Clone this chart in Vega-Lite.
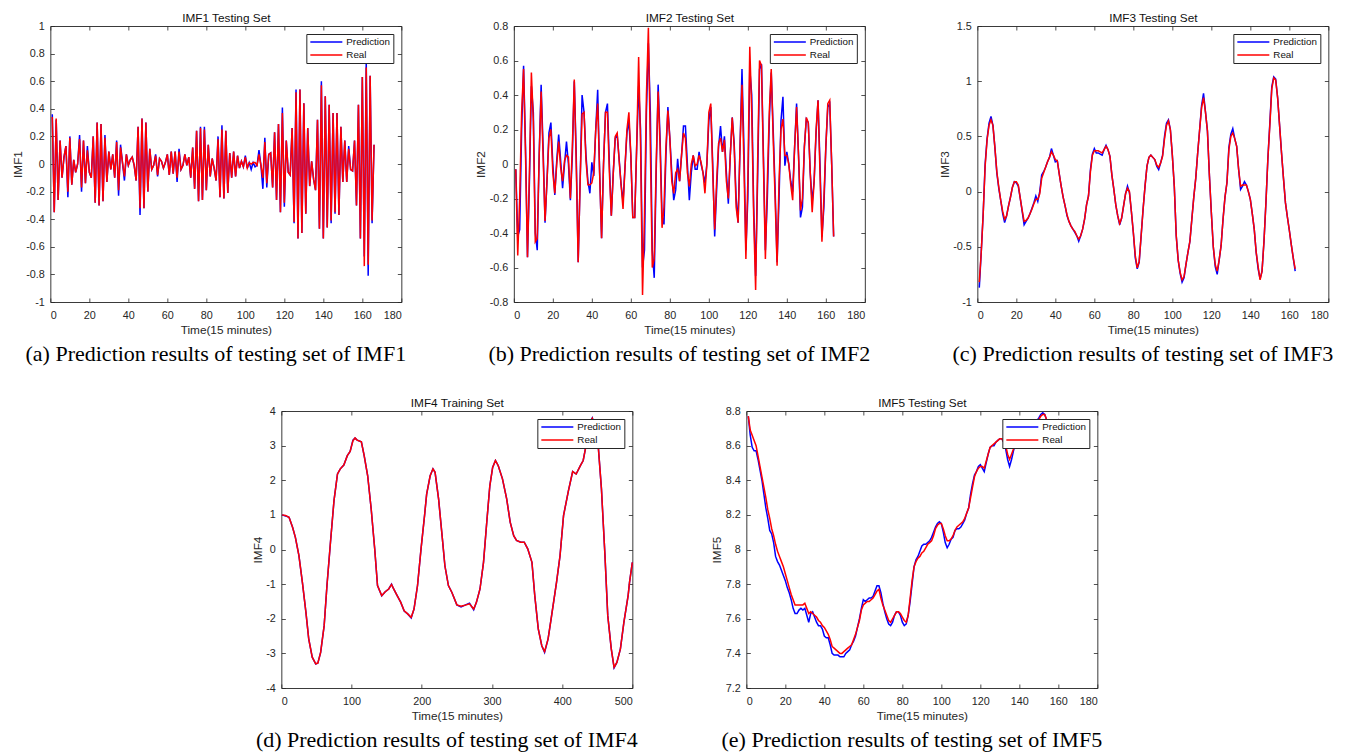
{
  "$schema": "https://vega.github.io/schema/vega-lite/v6.json",
  "background": "white",
  "padding": {"left": 11, "top": 12, "right": 0, "bottom": 0},
  "config": {
    "view": {"stroke": "#3a3a3a", "strokeWidth": 1},
    "axis": {
      "domain": false, "grid": false,
      "tickSize": -4, "tickColor": "#262626", "tickWidth": 0.8,
      "labelFont": "Liberation Sans", "labelFontSize": 10.8, "labelColor": "#262626",
      "titleFont": "Liberation Sans", "titleFontSize": 11.8, "titleFontWeight": "normal", "titleColor": "#262626"
    },
    "axisX": {"labelPadding": 11},
    "axisY": {"labelPadding": 10},
    "axisBottom": {"titlePadding": 5},
    "axisLeft": {"titlePadding": 2.5},
    "axisTop": {"titlePadding": 2, "titleColor": "#111111"},
    "legend": {
      "orient": "top-right", "offset": 8, "title": null,
      "symbolType": "stroke", "symbolSize": 1024, "symbolStrokeWidth": 1.8, "symbolOffset": 0,
      "clipHeight": 10, "rowPadding": 3, "padding": 3,
      "strokeColor": "#262626", "fillColor": "#ffffff", "cornerRadius": 0,
      "labelFont": "Liberation Sans", "labelFontSize": 9.8, "labelColor": "#111111", "labelOffset": 3
    },
    "title": {
      "orient": "bottom", "anchor": "middle", "font": "Liberation Serif", "fontSize": 22,
      "fontWeight": "normal", "color": "#000000", "offset": 7, "dx": -10
    },
    "line": {"strokeWidth": 1.5, "clip": true}
  },
  "datasets": {
    "imf1": [
      {"t":1,"pred":0.36,"real":0.34},{"t":2,"pred":-0.35,"real":-0.35},{"t":3,"pred":0.32,"real":0.33},{"t":4,"pred":-0.26,"real":-0.26},{"t":5,"pred":0.17,"real":0.17},
      {"t":6,"pred":-0.10,"real":-0.10},{"t":7,"pred":0.05,"real":0.05},{"t":8,"pred":0.13,"real":0.13},{"t":9,"pred":-0.24,"real":-0.20},{"t":10,"pred":0.20,"real":0.19},
      {"t":11,"pred":-0.15,"real":-0.15},{"t":12,"pred":0.03,"real":0.03},{"t":13,"pred":-0.06,"real":-0.06},{"t":14,"pred":0.00,"real":0.00},{"t":15,"pred":0.21,"real":0.18},
      {"t":16,"pred":-0.20,"real":-0.17},{"t":17,"pred":0.17,"real":0.17},{"t":18,"pred":-0.14,"real":-0.14},{"t":19,"pred":0.13,"real":0.10},{"t":20,"pred":-0.06,"real":-0.06},
      {"t":21,"pred":-0.10,"real":-0.10},{"t":22,"pred":0.20,"real":0.20},{"t":23,"pred":-0.28,"real":-0.28},{"t":24,"pred":0.30,"real":0.30},{"t":25,"pred":-0.30,"real":-0.30},
      {"t":26,"pred":0.29,"real":0.29},{"t":27,"pred":-0.27,"real":-0.27},{"t":28,"pred":0.21,"real":0.19},{"t":29,"pred":-0.13,"real":-0.13},{"t":30,"pred":0.09,"real":0.09},
      {"t":31,"pred":-0.04,"real":-0.04},{"t":32,"pred":0.07,"real":0.07},{"t":33,"pred":-0.10,"real":-0.10},{"t":34,"pred":0.17,"real":0.16},{"t":35,"pred":-0.23,"real":-0.19},
      {"t":36,"pred":0.14,"real":0.12},{"t":37,"pred":0.01,"real":0.01},{"t":38,"pred":-0.12,"real":-0.09},{"t":39,"pred":0.07,"real":0.07},{"t":40,"pred":-0.01,"real":-0.01},
      {"t":41,"pred":0.03,"real":0.03},{"t":42,"pred":0.05,"real":0.05},{"t":43,"pred":-0.01,"real":-0.01},{"t":44,"pred":-0.12,"real":-0.12},{"t":45,"pred":0.27,"real":0.27},
      {"t":46,"pred":-0.37,"real":-0.32},{"t":47,"pred":0.33,"real":0.33},{"t":48,"pred":-0.32,"real":-0.32},{"t":49,"pred":0.30,"real":0.30},{"t":50,"pred":-0.20,"real":-0.20},
      {"t":51,"pred":0.11,"real":0.11},{"t":52,"pred":-0.04,"real":-0.04},{"t":53,"pred":-0.01,"real":-0.01},{"t":54,"pred":0.07,"real":0.06},{"t":55,"pred":-0.09,"real":-0.08},
      {"t":56,"pred":0.04,"real":0.04},{"t":57,"pred":0.02,"real":0.02},{"t":58,"pred":-0.03,"real":-0.03},{"t":59,"pred":0.01,"real":0.01},{"t":60,"pred":0.07,"real":0.07},
      {"t":61,"pred":-0.08,"real":-0.08},{"t":62,"pred":0.09,"real":0.09},{"t":63,"pred":-0.07,"real":-0.07},{"t":64,"pred":0.09,"real":0.09},{"t":65,"pred":-0.13,"real":-0.10},
      {"t":66,"pred":0.11,"real":0.09},{"t":67,"pred":-0.04,"real":-0.04},{"t":68,"pred":-0.01,"real":-0.01},{"t":69,"pred":0.07,"real":0.07},{"t":70,"pred":-0.01,"real":-0.01},
      {"t":71,"pred":0.05,"real":0.05},{"t":72,"pred":-0.10,"real":-0.10},{"t":73,"pred":0.12,"real":0.12},{"t":74,"pred":-0.18,"real":-0.18},{"t":75,"pred":0.24,"real":0.24},
      {"t":76,"pred":-0.27,"real":-0.27},{"t":77,"pred":0.27,"real":0.26},{"t":78,"pred":-0.26,"real":-0.26},{"t":79,"pred":0.27,"real":0.25},{"t":80,"pred":-0.19,"real":-0.19},
      {"t":81,"pred":0.14,"real":0.14},{"t":82,"pred":-0.09,"real":-0.09},{"t":83,"pred":0.04,"real":0.04},{"t":84,"pred":-0.03,"real":-0.03},{"t":85,"pred":-0.12,"real":-0.12},
      {"t":86,"pred":0.20,"real":0.18},{"t":87,"pred":-0.24,"real":-0.24},{"t":88,"pred":0.28,"real":0.25},{"t":89,"pred":-0.25,"real":-0.25},{"t":90,"pred":0.24,"real":0.24},
      {"t":91,"pred":-0.21,"real":-0.21},{"t":92,"pred":0.08,"real":0.08},{"t":93,"pred":-0.10,"real":-0.10},{"t":94,"pred":0.09,"real":0.09},{"t":95,"pred":-0.09,"real":-0.09},
      {"t":96,"pred":0.06,"real":0.06},{"t":97,"pred":-0.03,"real":-0.03},{"t":98,"pred":0.02,"real":0.02},{"t":99,"pred":-0.02,"real":-0.02},{"t":100,"pred":0.06,"real":0.05},
      {"t":101,"pred":-0.03,"real":-0.03},{"t":102,"pred":0.01,"real":0.01},{"t":103,"pred":-0.04,"real":0.00},{"t":104,"pred":0.01,"real":0.01},{"t":105,"pred":-0.02,"real":0.01},
      {"t":106,"pred":-0.01,"real":-0.01},{"t":107,"pred":0.10,"real":0.07},{"t":108,"pred":-0.01,"real":-0.01},{"t":109,"pred":-0.18,"real":-0.10},{"t":110,"pred":0.19,"real":0.16},
      {"t":111,"pred":-0.17,"real":-0.14},{"t":112,"pred":0.07,"real":0.07},{"t":113,"pred":0.08,"real":0.08},{"t":114,"pred":-0.17,"real":-0.17},{"t":115,"pred":0.23,"real":0.23},
      {"t":116,"pred":-0.26,"real":-0.26},{"t":117,"pred":0.29,"real":0.29},{"t":118,"pred":-0.35,"real":-0.35},{"t":119,"pred":0.41,"real":0.37},{"t":120,"pred":-0.31,"real":-0.28},
      {"t":121,"pred":0.17,"real":0.17},{"t":122,"pred":-0.06,"real":-0.06},{"t":123,"pred":-0.08,"real":-0.08},{"t":124,"pred":0.26,"real":0.26},{"t":125,"pred":-0.43,"real":-0.42},
      {"t":126,"pred":0.54,"real":0.52},{"t":127,"pred":-0.54,"real":-0.54},{"t":128,"pred":0.54,"real":0.54},{"t":129,"pred":-0.50,"real":-0.50},{"t":130,"pred":0.44,"real":0.44},
      {"t":131,"pred":-0.36,"real":-0.36},{"t":132,"pred":0.26,"real":0.26},{"t":133,"pred":-0.16,"real":-0.16},{"t":134,"pred":0.02,"real":0.02},{"t":135,"pred":-0.11,"real":-0.11},
      {"t":136,"pred":-0.19,"real":-0.19},{"t":137,"pred":0.32,"real":0.32},{"t":138,"pred":-0.47,"real":-0.47},{"t":139,"pred":0.60,"real":0.57},{"t":140,"pred":-0.54,"real":-0.54},
      {"t":141,"pred":0.49,"real":0.49},{"t":142,"pred":-0.46,"real":-0.46},{"t":143,"pred":0.43,"real":0.43},{"t":144,"pred":-0.43,"real":-0.41},{"t":145,"pred":0.37,"real":0.37},
      {"t":146,"pred":-0.36,"real":-0.35},{"t":147,"pred":0.37,"real":0.37},{"t":148,"pred":-0.37,"real":-0.37},{"t":149,"pred":0.27,"real":0.27},{"t":150,"pred":-0.13,"real":-0.13},
      {"t":151,"pred":0.17,"real":0.17},{"t":152,"pred":-0.13,"real":-0.13},{"t":153,"pred":0.13,"real":0.11},{"t":154,"pred":-0.04,"real":-0.04},{"t":155,"pred":-0.05,"real":-0.05},
      {"t":156,"pred":0.17,"real":0.17},{"t":157,"pred":-0.30,"real":-0.30},{"t":158,"pred":0.43,"real":0.43},{"t":159,"pred":-0.54,"real":-0.54},{"t":160,"pred":0.63,"real":0.63},
      {"t":161,"pred":-0.67,"real":-0.74},{"t":162,"pred":0.75,"real":0.70},{"t":163,"pred":-0.81,"real":-0.73},{"t":164,"pred":0.64,"real":0.64},{"t":165,"pred":-0.43,"real":-0.41},
      {"t":166,"pred":0.14,"real":0.14}
    ],
    "imf2": [
      {"t":1,"pred":-0.03,"real":-0.03},{"t":2,"pred":-0.42,"real":-0.53},{"t":3,"pred":-0.38,"real":-0.20},{"t":4,"pred":0.20,"real":0.30},{"t":5,"pred":0.57,"real":0.55},
      {"t":6,"pred":0.10,"real":0.05},{"t":7,"pred":-0.54,"real":-0.54},{"t":8,"pred":-0.10,"real":-0.05},{"t":9,"pred":0.45,"real":0.53},{"t":10,"pred":0.30,"real":0.25},
      {"t":11,"pred":-0.40,"real":-0.45},{"t":12,"pred":-0.50,"real":-0.43},{"t":13,"pred":0.05,"real":0.05},{"t":14,"pred":0.46,"real":0.42},{"t":15,"pred":0.10,"real":0.05},
      {"t":16,"pred":-0.34,"real":-0.33},{"t":17,"pred":-0.10,"real":-0.10},{"t":18,"pred":0.18,"real":0.15},{"t":19,"pred":0.24,"real":0.20},{"t":20,"pred":0.00,"real":-0.05},
      {"t":21,"pred":-0.18,"real":-0.17},{"t":22,"pred":0.02,"real":0.00},{"t":23,"pred":0.17,"real":0.13},{"t":24,"pred":0.02,"real":-0.02},{"t":25,"pred":-0.14,"real":-0.10},
      {"t":26,"pred":0.00,"real":0.02},{"t":27,"pred":0.13,"real":0.05},{"t":28,"pred":0.00,"real":0.04},{"t":29,"pred":-0.21,"real":-0.20},{"t":30,"pred":0.05,"real":0.10},
      {"t":31,"pred":0.48,"real":0.49},{"t":32,"pred":0.05,"real":0.00},{"t":33,"pred":-0.57,"real":-0.57},{"t":34,"pred":-0.10,"real":-0.10},{"t":35,"pred":0.40,"real":0.29},
      {"t":36,"pred":0.30,"real":0.30},{"t":37,"pred":0.05,"real":0.02},{"t":38,"pred":-0.10,"real":-0.12},{"t":39,"pred":-0.17,"real":-0.12},{"t":40,"pred":0.01,"real":-0.11},
      {"t":41,"pred":-0.07,"real":-0.05},{"t":42,"pred":0.20,"real":0.20},{"t":43,"pred":0.43,"real":0.35},{"t":44,"pred":-0.05,"real":-0.05},{"t":45,"pred":-0.43,"real":-0.43},
      {"t":46,"pred":0.00,"real":0.00},{"t":47,"pred":0.30,"real":0.30},{"t":48,"pred":0.35,"real":0.30},{"t":49,"pred":0.00,"real":-0.05},{"t":50,"pred":-0.30,"real":-0.30},
      {"t":51,"pred":-0.05,"real":-0.05},{"t":52,"pred":0.15,"real":0.16},{"t":53,"pred":0.17,"real":0.18},{"t":54,"pred":0.03,"real":0.02},{"t":55,"pred":-0.12,"real":-0.12},
      {"t":56,"pred":-0.22,"real":-0.26},{"t":57,"pred":-0.02,"real":-0.02},{"t":58,"pred":0.18,"real":0.20},{"t":59,"pred":0.25,"real":0.30},{"t":60,"pred":0.05,"real":0.05},
      {"t":61,"pred":-0.31,"real":-0.31},{"t":62,"pred":-0.31,"real":-0.31},{"t":63,"pred":0.10,"real":0.10},{"t":64,"pred":0.45,"real":0.62},{"t":65,"pred":0.20,"real":0.10},
      {"t":66,"pred":-0.60,"real":-0.76},{"t":67,"pred":-0.50,"real":-0.30},{"t":68,"pred":0.30,"real":0.40},{"t":69,"pred":0.70,"real":0.79},{"t":70,"pred":0.30,"real":0.10},
      {"t":71,"pred":-0.50,"real":-0.60},{"t":72,"pred":-0.66,"real":-0.55},{"t":73,"pred":-0.05,"real":0.00},{"t":74,"pred":0.46,"real":0.42},{"t":75,"pred":0.15,"real":0.10},
      {"t":76,"pred":-0.30,"real":-0.37},{"t":77,"pred":-0.35,"real":-0.25},{"t":78,"pred":0.05,"real":0.10},{"t":79,"pred":0.33,"real":0.31},{"t":80,"pred":0.15,"real":0.15},
      {"t":81,"pred":-0.05,"real":-0.10},{"t":82,"pred":-0.21,"real":-0.17},{"t":83,"pred":-0.15,"real":-0.05},{"t":84,"pred":0.03,"real":-0.03},{"t":85,"pred":-0.10,"real":-0.10},
      {"t":86,"pred":0.05,"real":0.05},{"t":87,"pred":0.22,"real":0.18},{"t":88,"pred":0.22,"real":0.15},{"t":89,"pred":0.00,"real":-0.05},{"t":90,"pred":-0.21,"real":-0.13},
      {"t":91,"pred":-0.05,"real":0.00},{"t":92,"pred":0.05,"real":0.05},{"t":93,"pred":-0.03,"real":-0.01},{"t":94,"pred":-0.03,"real":0.00},{"t":95,"pred":0.07,"real":0.05},
      {"t":96,"pred":0.00,"real":0.01},{"t":97,"pred":-0.05,"real":-0.05},{"t":98,"pred":-0.11,"real":-0.17},{"t":99,"pred":0.00,"real":0.00},{"t":100,"pred":0.25,"real":0.30},
      {"t":101,"pred":0.33,"real":0.35},{"t":102,"pred":0.00,"real":-0.05},{"t":103,"pred":-0.42,"real":-0.38},{"t":104,"pred":-0.15,"real":-0.10},{"t":105,"pred":0.10,"real":0.12},
      {"t":106,"pred":0.22,"real":0.15},{"t":107,"pred":0.07,"real":0.07},{"t":108,"pred":0.16,"real":0.14},{"t":109,"pred":-0.05,"real":-0.10},{"t":110,"pred":-0.23,"real":-0.20},
      {"t":111,"pred":0.05,"real":0.05},{"t":112,"pred":0.27,"real":0.27},{"t":113,"pred":0.12,"real":0.10},{"t":114,"pred":-0.20,"real":-0.25},{"t":115,"pred":-0.34,"real":-0.34},
      {"t":116,"pred":0.10,"real":0.10},{"t":117,"pred":0.55,"real":0.46},{"t":118,"pred":0.10,"real":0.00},{"t":119,"pred":-0.50,"real":-0.55},{"t":120,"pred":-0.20,"real":-0.10},
      {"t":121,"pred":0.55,"real":0.68},{"t":122,"pred":0.40,"real":0.30},{"t":123,"pred":-0.25,"real":-0.30},{"t":124,"pred":-0.65,"real":-0.73},{"t":125,"pred":-0.10,"real":0.00},
      {"t":126,"pred":0.55,"real":0.60},{"t":127,"pred":0.58,"real":0.57},{"t":128,"pred":0.05,"real":0.00},{"t":129,"pred":-0.50,"real":-0.55},{"t":130,"pred":-0.20,"real":-0.10},
      {"t":131,"pred":0.25,"real":0.30},{"t":132,"pred":0.53,"real":0.55},{"t":133,"pred":0.20,"real":0.15},{"t":134,"pred":-0.15,"real":-0.20},{"t":135,"pred":-0.57,"real":-0.59},
      {"t":136,"pred":-0.20,"real":-0.10},{"t":137,"pred":0.25,"real":0.20},{"t":138,"pred":0.39,"real":0.26},{"t":139,"pred":-0.01,"real":0.05},{"t":140,"pred":0.07,"real":0.05},
      {"t":141,"pred":0.00,"real":0.00},{"t":142,"pred":-0.10,"real":-0.12},{"t":143,"pred":-0.16,"real":-0.21},{"t":144,"pred":0.10,"real":0.10},{"t":145,"pred":0.35,"real":0.33},
      {"t":146,"pred":0.05,"real":0.05},{"t":147,"pred":-0.31,"real":-0.27},{"t":148,"pred":-0.25,"real":-0.20},{"t":149,"pred":0.10,"real":0.10},{"t":150,"pred":0.26,"real":0.27},
      {"t":151,"pred":0.24,"real":0.24},{"t":152,"pred":-0.05,"real":-0.05},{"t":153,"pred":-0.22,"real":-0.28},{"t":154,"pred":-0.10,"real":-0.10},{"t":155,"pred":0.18,"real":0.20},
      {"t":156,"pred":0.37,"real":0.37},{"t":157,"pred":0.00,"real":-0.05},{"t":158,"pred":-0.42,"real":-0.45},{"t":159,"pred":-0.25,"real":-0.20},{"t":160,"pred":0.10,"real":0.10},
      {"t":161,"pred":0.33,"real":0.35},{"t":162,"pred":0.35,"real":0.37},{"t":163,"pred":0.00,"real":0.00},{"t":164,"pred":-0.42,"real":-0.42}
    ],
    "imf3": [
      {"t":1,"pred":-0.87,"real":-0.82},{"t":2,"pred":-0.55,"real":-0.55},{"t":3,"pred":-0.20,"real":-0.20},{"t":4,"pred":0.25,"real":0.23},{"t":5,"pred":0.48,"real":0.47},
      {"t":6,"pred":0.62,"real":0.60},{"t":7,"pred":0.68,"real":0.65},{"t":8,"pred":0.60,"real":0.60},{"t":9,"pred":0.40,"real":0.40},{"t":10,"pred":0.17,"real":0.18},
      {"t":11,"pred":0.03,"real":0.04},{"t":12,"pred":-0.08,"real":-0.08},{"t":13,"pred":-0.20,"real":-0.18},{"t":14,"pred":-0.28,"real":-0.25},{"t":15,"pred":-0.22,"real":-0.22},
      {"t":16,"pred":-0.13,"real":-0.13},{"t":17,"pred":-0.05,"real":-0.05},{"t":18,"pred":0.04,"real":0.04},{"t":19,"pred":0.09,"real":0.09},{"t":20,"pred":0.08,"real":0.09},
      {"t":21,"pred":0.05,"real":0.06},{"t":22,"pred":-0.06,"real":-0.06},{"t":23,"pred":-0.18,"real":-0.17},{"t":24,"pred":-0.30,"real":-0.27},{"t":25,"pred":-0.27,"real":-0.26},
      {"t":26,"pred":-0.24,"real":-0.24},{"t":27,"pred":-0.20,"real":-0.20},{"t":28,"pred":-0.15,"real":-0.16},{"t":29,"pred":-0.10,"real":-0.11},{"t":30,"pred":-0.04,"real":-0.07},
      {"t":31,"pred":-0.09,"real":-0.07},{"t":32,"pred":0.00,"real":-0.02},{"t":33,"pred":0.15,"real":0.12},{"t":34,"pred":0.18,"real":0.17},{"t":35,"pred":0.22,"real":0.22},
      {"t":36,"pred":0.27,"real":0.27},{"t":37,"pred":0.31,"real":0.31},{"t":38,"pred":0.39,"real":0.36},{"t":39,"pred":0.33,"real":0.33},{"t":40,"pred":0.27,"real":0.29},
      {"t":41,"pred":0.28,"real":0.28},{"t":42,"pred":0.16,"real":0.16},{"t":43,"pred":0.05,"real":0.05},{"t":44,"pred":-0.05,"real":-0.05},{"t":45,"pred":-0.13,"real":-0.13},
      {"t":46,"pred":-0.22,"real":-0.21},{"t":47,"pred":-0.27,"real":-0.27},{"t":48,"pred":-0.31,"real":-0.31},{"t":49,"pred":-0.34,"real":-0.34},{"t":50,"pred":-0.37,"real":-0.36},
      {"t":51,"pred":-0.40,"real":-0.40},{"t":52,"pred":-0.45,"real":-0.43},{"t":53,"pred":-0.40,"real":-0.40},{"t":54,"pred":-0.34,"real":-0.34},{"t":55,"pred":-0.25,"real":-0.25},
      {"t":56,"pred":-0.12,"real":-0.12},{"t":57,"pred":-0.04,"real":-0.04},{"t":58,"pred":0.20,"real":0.18},{"t":59,"pred":0.34,"real":0.33},{"t":60,"pred":0.39,"real":0.37},
      {"t":61,"pred":0.35,"real":0.37},{"t":62,"pred":0.35,"real":0.37},{"t":63,"pred":0.34,"real":0.36},{"t":64,"pred":0.33,"real":0.35},{"t":65,"pred":0.38,"real":0.38},
      {"t":66,"pred":0.42,"real":0.41},{"t":67,"pred":0.38,"real":0.38},{"t":68,"pred":0.32,"real":0.32},{"t":69,"pred":0.15,"real":0.15},{"t":70,"pred":0.02,"real":0.02},
      {"t":71,"pred":-0.12,"real":-0.12},{"t":72,"pred":-0.22,"real":-0.22},{"t":73,"pred":-0.30,"real":-0.29},{"t":74,"pred":-0.24,"real":-0.24},{"t":75,"pred":-0.13,"real":-0.13},
      {"t":76,"pred":-0.02,"real":-0.02},{"t":77,"pred":0.05,"real":0.03},{"t":78,"pred":-0.01,"real":0.00},{"t":79,"pred":-0.18,"real":-0.18},{"t":80,"pred":-0.37,"real":-0.37},
      {"t":81,"pred":-0.60,"real":-0.58},{"t":82,"pred":-0.70,"real":-0.69},{"t":83,"pred":-0.64,"real":-0.63},{"t":84,"pred":-0.40,"real":-0.40},{"t":85,"pred":-0.16,"real":-0.16},
      {"t":86,"pred":0.05,"real":0.05},{"t":87,"pred":0.23,"real":0.23},{"t":88,"pred":0.31,"real":0.31},{"t":89,"pred":0.33,"real":0.33},{"t":90,"pred":0.31,"real":0.31},
      {"t":91,"pred":0.29,"real":0.29},{"t":92,"pred":0.23,"real":0.24},{"t":93,"pred":0.20,"real":0.22},{"t":94,"pred":0.26,"real":0.26},{"t":95,"pred":0.33,"real":0.32},
      {"t":96,"pred":0.50,"real":0.48},{"t":97,"pred":0.62,"real":0.60},{"t":98,"pred":0.65,"real":0.64},{"t":99,"pred":0.56,"real":0.56},{"t":100,"pred":0.33,"real":0.33},
      {"t":101,"pred":0.05,"real":0.05},{"t":102,"pred":-0.40,"real":-0.40},{"t":103,"pred":-0.62,"real":-0.62},{"t":104,"pred":-0.74,"real":-0.73},{"t":105,"pred":-0.82,"real":-0.80},
      {"t":106,"pred":-0.78,"real":-0.77},{"t":107,"pred":-0.66,"real":-0.66},{"t":108,"pred":-0.55,"real":-0.55},{"t":109,"pred":-0.45,"real":-0.45},{"t":110,"pred":-0.25,"real":-0.25},
      {"t":111,"pred":-0.05,"real":-0.05},{"t":112,"pred":0.12,"real":0.12},{"t":113,"pred":0.35,"real":0.35},{"t":114,"pred":0.56,"real":0.56},{"t":115,"pred":0.78,"real":0.76},
      {"t":116,"pred":0.89,"real":0.85},{"t":117,"pred":0.72,"real":0.72},{"t":118,"pred":0.55,"real":0.55},{"t":119,"pred":0.15,"real":0.15},{"t":120,"pred":-0.19,"real":-0.19},
      {"t":121,"pred":-0.50,"real":-0.50},{"t":122,"pred":-0.68,"real":-0.66},{"t":123,"pred":-0.75,"real":-0.72},{"t":124,"pred":-0.62,"real":-0.62},{"t":125,"pred":-0.49,"real":-0.49},
      {"t":126,"pred":-0.25,"real":-0.25},{"t":127,"pred":-0.05,"real":-0.05},{"t":128,"pred":0.08,"real":0.08},{"t":129,"pred":0.40,"real":0.38},{"t":130,"pred":0.52,"real":0.50},
      {"t":131,"pred":0.57,"real":0.53},{"t":132,"pred":0.48,"real":0.48},{"t":133,"pred":0.41,"real":0.41},{"t":134,"pred":0.20,"real":0.20},{"t":135,"pred":0.02,"real":0.05},
      {"t":136,"pred":0.05,"real":0.06},{"t":137,"pred":0.09,"real":0.06},{"t":138,"pred":0.06,"real":0.06},{"t":139,"pred":0.00,"real":0.00},{"t":140,"pred":-0.07,"real":-0.07},
      {"t":141,"pred":-0.20,"real":-0.20},{"t":142,"pred":-0.34,"real":-0.34},{"t":143,"pred":-0.55,"real":-0.55},{"t":144,"pred":-0.70,"real":-0.68},{"t":145,"pred":-0.79,"real":-0.80},
      {"t":146,"pred":-0.72,"real":-0.72},{"t":147,"pred":-0.45,"real":-0.45},{"t":148,"pred":-0.10,"real":-0.10},{"t":149,"pred":0.30,"real":0.30},{"t":150,"pred":0.62,"real":0.60},
      {"t":151,"pred":0.95,"real":0.93},{"t":152,"pred":1.04,"real":1.03},{"t":153,"pred":1.02,"real":1.01},{"t":154,"pred":0.85,"real":0.85},{"t":155,"pred":0.60,"real":0.60},
      {"t":156,"pred":0.35,"real":0.35},{"t":157,"pred":0.12,"real":0.12},{"t":158,"pred":-0.10,"real":-0.10},{"t":159,"pred":-0.23,"real":-0.23},{"t":160,"pred":-0.35,"real":-0.35},
      {"t":161,"pred":-0.48,"real":-0.48},{"t":162,"pred":-0.60,"real":-0.60},{"t":163,"pred":-0.72,"real":-0.70}
    ],
    "imf4": [
      {"t":1,"pred":1.00,"real":1.00},{"t":6,"pred":0.97,"real":0.98},{"t":11,"pred":0.93,"real":0.93},{"t":16,"pred":0.64,"real":0.64},{"t":20,"pred":0.35,"real":0.35},
      {"t":25,"pred":-0.17,"real":-0.17},{"t":30,"pred":-0.95,"real":-0.95},{"t":35,"pred":-1.81,"real":-1.81},{"t":39,"pred":-2.58,"real":-2.58},{"t":44,"pred":-3.11,"real":-3.11},
      {"t":49,"pred":-3.31,"real":-3.30},{"t":52,"pred":-3.28,"real":-3.28},{"t":56,"pred":-2.97,"real":-2.97},{"t":61,"pred":-2.20,"real":-2.20},{"t":65,"pred":-1.04,"real":-1.04},
      {"t":70,"pred":0.21,"real":0.21},{"t":75,"pred":1.41,"real":1.41},{"t":80,"pred":2.18,"real":2.18},{"t":84,"pred":2.33,"real":2.33},{"t":89,"pred":2.44,"real":2.44},
      {"t":94,"pred":2.71,"real":2.71},{"t":98,"pred":2.83,"real":2.83},{"t":102,"pred":3.16,"real":3.14},{"t":105,"pred":3.22,"real":3.22},{"t":108,"pred":3.16,"real":3.16},
      {"t":114,"pred":3.11,"real":3.11},{"t":118,"pred":2.71,"real":2.71},{"t":123,"pred":2.13,"real":2.13},{"t":128,"pred":1.17,"real":1.17},{"t":133,"pred":0.02,"real":0.02},
      {"t":137,"pred":-1.04,"real":-1.04},{"t":143,"pred":-1.34,"real":-1.33},{"t":148,"pred":-1.22,"real":-1.22},{"t":153,"pred":-1.14,"real":-1.14},{"t":157,"pred":-1.00,"real":-1.01},
      {"t":160,"pred":-1.14,"real":-1.14},{"t":165,"pred":-1.33,"real":-1.33},{"t":170,"pred":-1.52,"real":-1.52},{"t":175,"pred":-1.78,"real":-1.77},{"t":180,"pred":-1.86,"real":-1.86},
      {"t":185,"pred":-1.98,"real":-1.96},{"t":189,"pred":-1.72,"real":-1.72},{"t":194,"pred":-1.04,"real":-1.04},{"t":199,"pred":0.02,"real":0.02},{"t":204,"pred":0.98,"real":0.98},
      {"t":207,"pred":1.60,"real":1.60},{"t":212,"pred":2.13,"real":2.13},{"t":216,"pred":2.33,"real":2.33},{"t":219,"pred":2.23,"real":2.23},{"t":224,"pred":1.46,"real":1.46},
      {"t":229,"pred":0.40,"real":0.40},{"t":233,"pred":-0.47,"real":-0.47},{"t":238,"pred":-1.04,"real":-1.04},{"t":243,"pred":-1.24,"real":-1.24},{"t":250,"pred":-1.60,"real":-1.60},
      {"t":256,"pred":-1.66,"real":-1.64},{"t":260,"pred":-1.62,"real":-1.62},{"t":268,"pred":-1.55,"real":-1.57},{"t":274,"pred":-1.74,"real":-1.72},{"t":278,"pred":-1.52,"real":-1.52},
      {"t":283,"pred":-1.14,"real":-1.14},{"t":288,"pred":-0.37,"real":-0.37},{"t":293,"pred":0.88,"real":0.88},{"t":297,"pred":1.84,"real":1.84},{"t":301,"pred":2.37,"real":2.37},
      {"t":305,"pred":2.57,"real":2.57},{"t":309,"pred":2.42,"real":2.42},{"t":315,"pred":2.04,"real":2.04},{"t":321,"pred":1.46,"real":1.46},{"t":326,"pred":0.79,"real":0.79},
      {"t":331,"pred":0.40,"real":0.40},{"t":335,"pred":0.26,"real":0.26},{"t":341,"pred":0.21,"real":0.21},{"t":346,"pred":0.21,"real":0.21},{"t":351,"pred":0.02,"real":0.02},
      {"t":357,"pred":-0.37,"real":-0.37},{"t":361,"pred":-1.33,"real":-1.33},{"t":366,"pred":-2.29,"real":-2.29},{"t":371,"pred":-2.78,"real":-2.78},{"t":375,"pred":-2.97,"real":-2.95},
      {"t":380,"pred":-2.58,"real":-2.58},{"t":385,"pred":-1.91,"real":-1.91},{"t":392,"pred":-0.95,"real":-0.95},{"t":397,"pred":-0.18,"real":-0.18},{"t":402,"pred":0.98,"real":0.98},
      {"t":409,"pred":1.70,"real":1.70},{"t":415,"pred":2.25,"real":2.25},{"t":420,"pred":2.18,"real":2.18},{"t":426,"pred":2.42,"real":2.42},{"t":430,"pred":2.57,"real":2.57},
      {"t":435,"pred":3.10,"real":3.10},{"t":439,"pred":3.67,"real":3.67},{"t":443,"pred":3.80,"real":3.79},{"t":446,"pred":3.58,"real":3.58},{"t":451,"pred":3.10,"real":3.10},
      {"t":456,"pred":1.75,"real":1.75},{"t":461,"pred":-0.17,"real":-0.17},{"t":465,"pred":-1.91,"real":-1.91},{"t":470,"pred":-2.87,"real":-2.87},{"t":474,"pred":-3.42,"real":-3.40},
      {"t":478,"pred":-3.26,"real":-3.26},{"t":483,"pred":-2.87,"real":-2.87},{"t":488,"pred":-2.10,"real":-2.10},{"t":494,"pred":-1.33,"real":-1.33},{"t":496,"pred":-0.95,"real":-0.95},
      {"t":500,"pred":-0.37,"real":-0.37}
    ],
    "imf5": [
      {"t":1,"pred":8.77,"real":8.77},{"t":2,"pred":8.66,"real":8.69},{"t":3,"pred":8.59,"real":8.66},{"t":4,"pred":8.57,"real":8.63},{"t":5,"pred":8.57,"real":8.60},
      {"t":6,"pred":8.52,"real":8.54},{"t":7,"pred":8.46,"real":8.48},{"t":8,"pred":8.40,"real":8.42},{"t":9,"pred":8.32,"real":8.36},{"t":10,"pred":8.24,"real":8.30},
      {"t":11,"pred":8.18,"real":8.23},{"t":12,"pred":8.11,"real":8.18},{"t":13,"pred":8.09,"real":8.12},{"t":14,"pred":8.04,"real":8.08},{"t":15,"pred":7.96,"real":8.03},
      {"t":16,"pred":7.93,"real":7.99},{"t":17,"pred":7.91,"real":7.96},{"t":18,"pred":7.88,"real":7.93},{"t":19,"pred":7.85,"real":7.90},{"t":20,"pred":7.82,"real":7.86},
      {"t":21,"pred":7.78,"real":7.82},{"t":22,"pred":7.75,"real":7.78},{"t":23,"pred":7.71,"real":7.74},{"t":24,"pred":7.66,"real":7.71},{"t":25,"pred":7.63,"real":7.68},
      {"t":26,"pred":7.63,"real":7.68},{"t":27,"pred":7.65,"real":7.68},{"t":28,"pred":7.66,"real":7.68},{"t":29,"pred":7.65,"real":7.68},{"t":30,"pred":7.66,"real":7.69},
      {"t":31,"pred":7.62,"real":7.66},{"t":32,"pred":7.58,"real":7.63},{"t":33,"pred":7.63,"real":7.64},{"t":34,"pred":7.64,"real":7.63},{"t":35,"pred":7.61,"real":7.62},
      {"t":36,"pred":7.58,"real":7.61},{"t":37,"pred":7.56,"real":7.59},{"t":38,"pred":7.56,"real":7.58},{"t":39,"pred":7.54,"real":7.56},{"t":40,"pred":7.50,"real":7.55},
      {"t":41,"pred":7.49,"real":7.53},{"t":42,"pred":7.49,"real":7.51},{"t":43,"pred":7.45,"real":7.48},{"t":44,"pred":7.40,"real":7.44},{"t":45,"pred":7.39,"real":7.43},
      {"t":46,"pred":7.39,"real":7.42},{"t":47,"pred":7.39,"real":7.41},{"t":48,"pred":7.38,"real":7.40},{"t":49,"pred":7.38,"real":7.40},{"t":50,"pred":7.38,"real":7.41},
      {"t":51,"pred":7.40,"real":7.42},{"t":52,"pred":7.41,"real":7.43},{"t":53,"pred":7.42,"real":7.44},{"t":54,"pred":7.45,"real":7.45},{"t":55,"pred":7.47,"real":7.48},
      {"t":56,"pred":7.50,"real":7.51},{"t":57,"pred":7.55,"real":7.55},{"t":58,"pred":7.60,"real":7.59},{"t":59,"pred":7.66,"real":7.65},{"t":60,"pred":7.71,"real":7.68},
      {"t":61,"pred":7.70,"real":7.69},{"t":62,"pred":7.71,"real":7.70},{"t":63,"pred":7.72,"real":7.70},{"t":64,"pred":7.72,"real":7.71},{"t":65,"pred":7.73,"real":7.72},
      {"t":66,"pred":7.76,"real":7.74},{"t":67,"pred":7.79,"real":7.76},{"t":68,"pred":7.79,"real":7.77},{"t":69,"pred":7.75,"real":7.72},{"t":70,"pred":7.69,"real":7.68},
      {"t":71,"pred":7.64,"real":7.65},{"t":72,"pred":7.60,"real":7.62},{"t":73,"pred":7.57,"real":7.59},{"t":74,"pred":7.56,"real":7.58},{"t":75,"pred":7.58,"real":7.60},
      {"t":76,"pred":7.62,"real":7.62},{"t":77,"pred":7.64,"real":7.64},{"t":78,"pred":7.64,"real":7.64},{"t":79,"pred":7.62,"real":7.63},{"t":80,"pred":7.58,"real":7.61},
      {"t":81,"pred":7.56,"real":7.59},{"t":82,"pred":7.57,"real":7.58},{"t":83,"pred":7.62,"real":7.62},{"t":84,"pred":7.70,"real":7.72},{"t":85,"pred":7.80,"real":7.82},
      {"t":86,"pred":7.90,"real":7.90},{"t":87,"pred":7.94,"real":7.93},{"t":88,"pred":7.96,"real":7.95},{"t":89,"pred":7.99,"real":7.96},{"t":90,"pred":8.02,"real":7.98},
      {"t":91,"pred":8.03,"real":7.99},{"t":92,"pred":8.03,"real":8.01},{"t":93,"pred":8.04,"real":8.03},{"t":94,"pred":8.05,"real":8.04},{"t":95,"pred":8.07,"real":8.05},
      {"t":96,"pred":8.10,"real":8.08},{"t":97,"pred":8.13,"real":8.12},{"t":98,"pred":8.15,"real":8.14},{"t":99,"pred":8.16,"real":8.15},{"t":100,"pred":8.15,"real":8.15},
      {"t":101,"pred":8.10,"real":8.12},{"t":102,"pred":8.04,"real":8.08},{"t":103,"pred":8.01,"real":8.05},{"t":104,"pred":8.03,"real":8.05},{"t":105,"pred":8.06,"real":8.06},
      {"t":106,"pred":8.07,"real":8.08},{"t":107,"pred":8.11,"real":8.11},{"t":108,"pred":8.12,"real":8.13},{"t":109,"pred":8.12,"real":8.14},{"t":110,"pred":8.13,"real":8.15},
      {"t":111,"pred":8.15,"real":8.16},{"t":112,"pred":8.17,"real":8.18},{"t":113,"pred":8.21,"real":8.21},{"t":114,"pred":8.24,"real":8.24},{"t":115,"pred":8.32,"real":8.30},
      {"t":116,"pred":8.38,"real":8.36},{"t":117,"pred":8.43,"real":8.42},{"t":118,"pred":8.45,"real":8.45},{"t":119,"pred":8.48,"real":8.47},{"t":120,"pred":8.49,"real":8.48},
      {"t":121,"pred":8.47,"real":8.48},{"t":122,"pred":8.45,"real":8.47},{"t":123,"pred":8.50,"real":8.51},{"t":124,"pred":8.55,"real":8.55},{"t":125,"pred":8.59,"real":8.59},
      {"t":126,"pred":8.60,"real":8.60},{"t":127,"pred":8.60,"real":8.61},{"t":128,"pred":8.62,"real":8.62},{"t":129,"pred":8.63,"real":8.63},{"t":130,"pred":8.64,"real":8.64},
      {"t":131,"pred":8.64,"real":8.64},{"t":132,"pred":8.62,"real":8.62},{"t":133,"pred":8.58,"real":8.60},{"t":134,"pred":8.52,"real":8.55},{"t":135,"pred":8.48,"real":8.52},
      {"t":136,"pred":8.52,"real":8.55},{"t":137,"pred":8.57,"real":8.58},{"t":138,"pred":8.61,"real":8.61},{"t":140,"pred":8.63,"real":8.64},{"t":143,"pred":8.67,"real":8.68},
      {"t":146,"pred":8.70,"real":8.71},{"t":148,"pred":8.73,"real":8.73},{"t":150,"pred":8.76,"real":8.75},{"t":151,"pred":8.78,"real":8.77},{"t":152,"pred":8.79,"real":8.78},
      {"t":153,"pred":8.78,"real":8.78},{"t":154,"pred":8.75,"real":8.75},{"t":156,"pred":8.72,"real":8.72},{"t":158,"pred":8.72,"real":8.72},{"t":160,"pred":8.75,"real":8.75},
      {"t":162,"pred":8.74,"real":8.74}
    ]
  },
  "spacing": 31,
  "center": true,
  "resolve": {"scale": {"color": "independent"}, "legend": {"color": "independent"}},
  "vconcat": [
    {
      "spacing": 67.5,
      "resolve": {"scale": {"color": "independent"}, "legend": {"color": "independent"}},
      "hconcat": [
        {
          "width": 351, "height": 276,
          "title": "(a) Prediction results of testing set of IMF1",
          "data": {"name": "imf1"},
          "resolve": {"axis": {"x": "independent", "y": "independent"}},
          "layer": [
            {
              "mark": {"type": "line"},
              "encoding": {
                "x": {"field": "t", "type": "quantitative", "scale": {"domain": [0, 180], "nice": false},
                      "axis": {"orient": "bottom", "values": [0, 20, 40, 60, 80, 100, 120, 140, 160, 180], "title": "Time(15 minutes)"}},
                "y": {"field": "pred", "type": "quantitative", "scale": {"domain": [-1, 1], "nice": false, "zero": false},
                      "axis": {"orient": "left", "values": [-1, -0.8, -0.6, -0.4, -0.2, 0, 0.2, 0.4, 0.6, 0.8, 1], "title": "IMF1",
                               "labelExpr": "replace(format(datum.value, '~g'), '−', '-')"}},
                "color": {"datum": "Prediction", "type": "nominal", "scale": {"domain": ["Prediction", "Real"], "range": ["#0000ff", "#ff0000"]}}
              }
            },
            {
              "mark": {"type": "line"},
              "encoding": {
                "x": {"field": "t", "type": "quantitative",
                      "axis": {"orient": "top", "labels": false, "values": [0, 20, 40, 60, 80, 100, 120, 140, 160, 180], "title": "IMF1 Testing Set"}},
                "y": {"field": "real", "type": "quantitative",
                      "axis": {"orient": "right", "labels": false, "values": [-1, -0.8, -0.6, -0.4, -0.2, 0, 0.2, 0.4, 0.6, 0.8, 1], "title": null}},
                "color": {"datum": "Real", "type": "nominal"}
              }
            }
          ]
        },
        {
          "width": 351, "height": 276,
          "title": "(b) Prediction results of testing set of IMF2",
          "data": {"name": "imf2"},
          "resolve": {"axis": {"x": "independent", "y": "independent"}},
          "layer": [
            {
              "mark": {"type": "line"},
              "encoding": {
                "x": {"field": "t", "type": "quantitative", "scale": {"domain": [0, 180], "nice": false},
                      "axis": {"orient": "bottom", "values": [0, 20, 40, 60, 80, 100, 120, 140, 160, 180], "title": "Time(15 minutes)"}},
                "y": {"field": "pred", "type": "quantitative", "scale": {"domain": [-0.8, 0.8], "nice": false, "zero": false},
                      "axis": {"orient": "left", "values": [-0.8, -0.6, -0.4, -0.2, 0, 0.2, 0.4, 0.6, 0.8], "title": "IMF2",
                               "labelExpr": "replace(format(datum.value, '~g'), '−', '-')"}},
                "color": {"datum": "Prediction", "type": "nominal", "scale": {"domain": ["Prediction", "Real"], "range": ["#0000ff", "#ff0000"]}}
              }
            },
            {
              "mark": {"type": "line"},
              "encoding": {
                "x": {"field": "t", "type": "quantitative",
                      "axis": {"orient": "top", "labels": false, "values": [0, 20, 40, 60, 80, 100, 120, 140, 160, 180], "title": "IMF2 Testing Set"}},
                "y": {"field": "real", "type": "quantitative",
                      "axis": {"orient": "right", "labels": false, "values": [-0.8, -0.6, -0.4, -0.2, 0, 0.2, 0.4, 0.6, 0.8], "title": null}},
                "color": {"datum": "Real", "type": "nominal"}
              }
            }
          ]
        },
        {
          "width": 351, "height": 276,
          "title": "(c) Prediction results of testing set of IMF3",
          "data": {"name": "imf3"},
          "resolve": {"axis": {"x": "independent", "y": "independent"}},
          "layer": [
            {
              "mark": {"type": "line"},
              "encoding": {
                "x": {"field": "t", "type": "quantitative", "scale": {"domain": [0, 180], "nice": false},
                      "axis": {"orient": "bottom", "values": [0, 20, 40, 60, 80, 100, 120, 140, 160, 180], "title": "Time(15 minutes)"}},
                "y": {"field": "pred", "type": "quantitative", "scale": {"domain": [-1, 1.5], "nice": false, "zero": false},
                      "axis": {"orient": "left", "values": [-1, -0.5, 0, 0.5, 1, 1.5], "title": "IMF3",
                               "labelExpr": "replace(format(datum.value, '~g'), '−', '-')"}},
                "color": {"datum": "Prediction", "type": "nominal", "scale": {"domain": ["Prediction", "Real"], "range": ["#0000ff", "#ff0000"]}}
              }
            },
            {
              "mark": {"type": "line"},
              "encoding": {
                "x": {"field": "t", "type": "quantitative",
                      "axis": {"orient": "top", "labels": false, "values": [0, 20, 40, 60, 80, 100, 120, 140, 160, 180], "title": "IMF3 Testing Set"}},
                "y": {"field": "real", "type": "quantitative",
                      "axis": {"orient": "right", "labels": false, "values": [-1, -0.5, 0, 0.5, 1, 1.5], "title": null}},
                "color": {"datum": "Real", "type": "nominal"}
              }
            }
          ]
        }
      ]
    },
    {
      "spacing": 72,
      "resolve": {"scale": {"color": "independent"}, "legend": {"color": "independent"}},
      "hconcat": [
        {
          "width": 351, "height": 277,
          "title": "(d) Prediction results of testing set of IMF4",
          "data": {"name": "imf4"},
          "resolve": {"axis": {"x": "independent", "y": "independent"}},
          "layer": [
            {
              "mark": {"type": "line"},
              "encoding": {
                "x": {"field": "t", "type": "quantitative", "scale": {"domain": [0, 500], "nice": false},
                      "axis": {"orient": "bottom", "values": [0, 100, 200, 300, 400, 500], "title": "Time(15 minutes)"}},
                "y": {"field": "pred", "type": "quantitative", "scale": {"domain": [-4, 4], "nice": false, "zero": false},
                      "axis": {"orient": "left", "values": [-4, -3, -2, -1, 0, 1, 2, 3, 4], "title": "IMF4",
                               "labelExpr": "replace(format(datum.value, '~g'), '−', '-')"}},
                "color": {"datum": "Prediction", "type": "nominal", "scale": {"domain": ["Prediction", "Real"], "range": ["#0000ff", "#ff0000"]}}
              }
            },
            {
              "mark": {"type": "line"},
              "encoding": {
                "x": {"field": "t", "type": "quantitative",
                      "axis": {"orient": "top", "labels": false, "values": [0, 100, 200, 300, 400, 500], "title": "IMF4 Training Set"}},
                "y": {"field": "real", "type": "quantitative",
                      "axis": {"orient": "right", "labels": false, "values": [-4, -3, -2, -1, 0, 1, 2, 3, 4], "title": null}},
                "color": {"datum": "Real", "type": "nominal"}
              }
            }
          ]
        },
        {
          "width": 351, "height": 277,
          "title": "(e) Prediction results of testing set of IMF5",
          "data": {"name": "imf5"},
          "resolve": {"axis": {"x": "independent", "y": "independent"}},
          "layer": [
            {
              "mark": {"type": "line"},
              "encoding": {
                "x": {"field": "t", "type": "quantitative", "scale": {"domain": [0, 180], "nice": false},
                      "axis": {"orient": "bottom", "values": [0, 20, 40, 60, 80, 100, 120, 140, 160, 180], "title": "Time(15 minutes)"}},
                "y": {"field": "pred", "type": "quantitative", "scale": {"domain": [7.2, 8.8], "nice": false, "zero": false},
                      "axis": {"orient": "left", "values": [7.2, 7.4, 7.6, 7.8, 8, 8.2, 8.4, 8.6, 8.8], "title": "IMF5",
                               "labelExpr": "replace(format(datum.value, '~g'), '−', '-')"}},
                "color": {"datum": "Prediction", "type": "nominal", "scale": {"domain": ["Prediction", "Real"], "range": ["#0000ff", "#ff0000"]}}
              }
            },
            {
              "mark": {"type": "line"},
              "encoding": {
                "x": {"field": "t", "type": "quantitative",
                      "axis": {"orient": "top", "labels": false, "values": [0, 20, 40, 60, 80, 100, 120, 140, 160, 180], "title": "IMF5 Testing Set"}},
                "y": {"field": "real", "type": "quantitative",
                      "axis": {"orient": "right", "labels": false, "values": [7.2, 7.4, 7.6, 7.8, 8, 8.2, 8.4, 8.6, 8.8], "title": null}},
                "color": {"datum": "Real", "type": "nominal"}
              }
            }
          ]
        }
      ]
    }
  ]
}
